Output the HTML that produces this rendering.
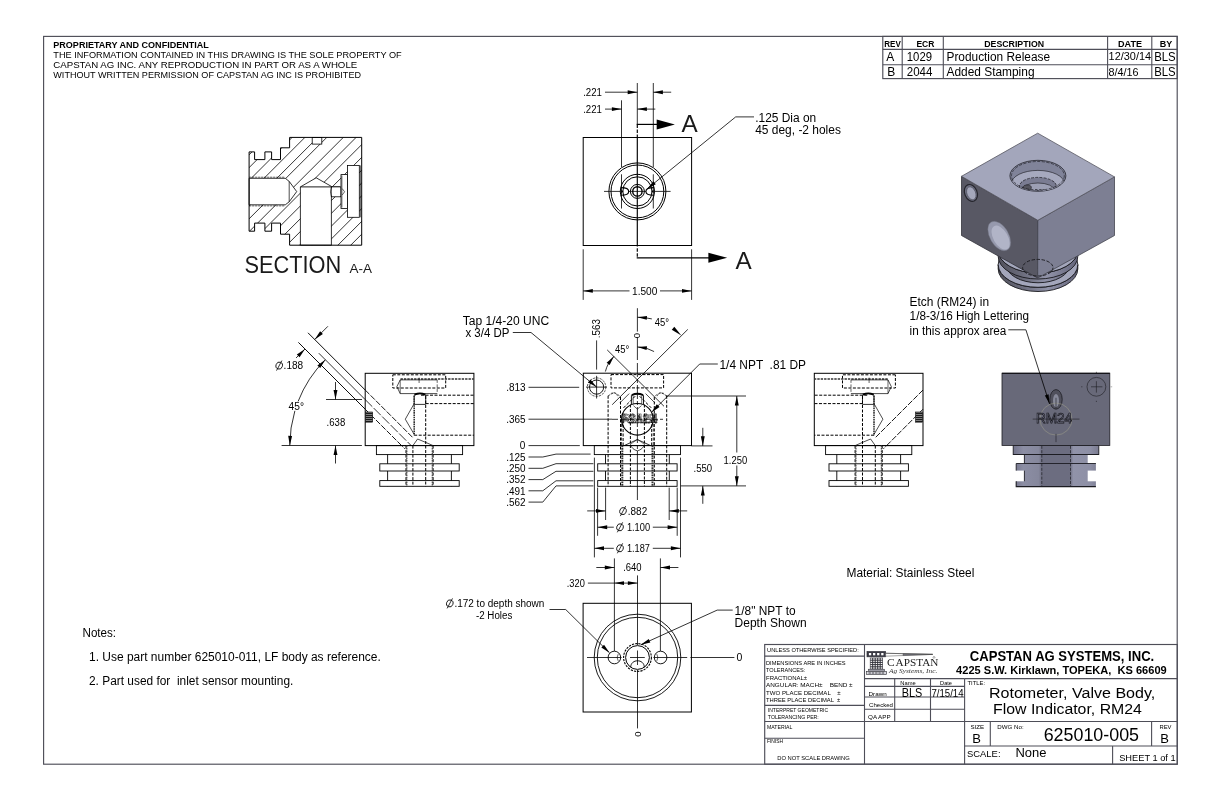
<!DOCTYPE html>
<html lang="en">
<head>
<meta charset="utf-8">
<title>625010-005 Rotometer, Valve Body, Flow Indicator, RM24</title>
<style>
html,body{margin:0;padding:0;background:#fff;}
body{width:1224px;height:792px;overflow:hidden;}
svg{display:block;font-family:"Liberation Sans",Arial,sans-serif;will-change:transform;}
svg text{white-space:pre;}
</style>
</head>
<body>
<svg width="1224" height="792" viewBox="0 0 1224 792">
<rect x="0" y="0" width="1224" height="792" fill="#fff"/>
<g id="frame">
<rect x="43.6" y="36.4" width="1133.6" height="727.8" fill="none" stroke="#4e4e58" stroke-width="1.15"/>
<text x="53.3" y="47.9" font-size="9.4" textLength="155.5" lengthAdjust="spacingAndGlyphs" font-weight="bold" >PROPRIETARY AND CONFIDENTIAL</text>
<text x="53.3" y="57.9" font-size="9.3" textLength="348.4" lengthAdjust="spacingAndGlyphs" >THE INFORMATION CONTAINED IN THIS DRAWING IS THE SOLE PROPERTY OF</text>
<text x="53.3" y="67.7" font-size="9.3" textLength="303.9" lengthAdjust="spacingAndGlyphs" >CAPSTAN AG INC. ANY REPRODUCTION IN PART OR AS A WHOLE</text>
<text x="53.3" y="77.6" font-size="9.3" textLength="307.7" lengthAdjust="spacingAndGlyphs" >WITHOUT WRITTEN PERMISSION OF CAPSTAN AG INC IS PROHIBITED</text>
<rect x="882.8" y="36.4" width="294.4" height="42.2" fill="none" stroke="#4e4e58" stroke-width="1.15"/>
<line x1="882.8" y1="49.4" x2="1177.2" y2="49.4" stroke="#4e4e58" stroke-width="1.1"/>
<line x1="882.8" y1="64.7" x2="1177.2" y2="64.7" stroke="#4e4e58" stroke-width="1.1"/>
<line x1="902.2" y1="36.4" x2="902.2" y2="78.6" stroke="#4e4e58" stroke-width="1.1"/>
<line x1="943.3" y1="36.4" x2="943.3" y2="78.6" stroke="#4e4e58" stroke-width="1.1"/>
<line x1="1107.6" y1="36.4" x2="1107.6" y2="78.6" stroke="#4e4e58" stroke-width="1.1"/>
<line x1="1151.8" y1="36.4" x2="1151.8" y2="78.6" stroke="#4e4e58" stroke-width="1.1"/>
<text x="892.5" y="47" font-size="9.2" text-anchor="middle" textLength="16.5" lengthAdjust="spacingAndGlyphs" font-weight="bold" >REV</text>
<text x="925.4" y="47" font-size="9.2" text-anchor="middle" textLength="18" lengthAdjust="spacingAndGlyphs" font-weight="bold" >ECR</text>
<text x="1014.2" y="47" font-size="9.2" text-anchor="middle" textLength="60" lengthAdjust="spacingAndGlyphs" font-weight="bold" >DESCRIPTION</text>
<text x="1130" y="47" font-size="9.2" text-anchor="middle" textLength="24" lengthAdjust="spacingAndGlyphs" font-weight="bold" >DATE</text>
<text x="1166" y="47" font-size="9.2" text-anchor="middle" textLength="12.5" lengthAdjust="spacingAndGlyphs" font-weight="bold" >BY</text>
<text x="890.3" y="61.3" font-size="12" text-anchor="middle" >A</text>
<text x="906.8" y="61.3" font-size="12" textLength="25.2" lengthAdjust="spacingAndGlyphs" >1029</text>
<text x="946.5" y="61.3" font-size="12" textLength="103.5" lengthAdjust="spacingAndGlyphs" >Production Release</text>
<text x="1108.6" y="60.1" font-size="11" textLength="42.5" lengthAdjust="spacingAndGlyphs" >12/30/14</text>
<text x="1154.2" y="61.3" font-size="12" textLength="21.5" lengthAdjust="spacingAndGlyphs" >BLS</text>
<text x="891.2" y="76.2" font-size="12" text-anchor="middle" >B</text>
<text x="906.8" y="76.2" font-size="12" textLength="25.6" lengthAdjust="spacingAndGlyphs" >2044</text>
<text x="946.5" y="76.2" font-size="12" textLength="88" lengthAdjust="spacingAndGlyphs" >Added Stamping</text>
<text x="1108.6" y="75.6" font-size="11" textLength="30" lengthAdjust="spacingAndGlyphs" >8/4/16</text>
<text x="1154.2" y="76.2" font-size="12" textLength="21.5" lengthAdjust="spacingAndGlyphs" >BLS</text>
<text x="82.5" y="636.6" font-size="12" textLength="33.6" lengthAdjust="spacingAndGlyphs" >Notes:</text>
<text x="89" y="660.5" font-size="12" textLength="291.8" lengthAdjust="spacingAndGlyphs" >1. Use part number 625010-011, LF body as reference.</text>
<text x="89" y="684.6" font-size="12" textLength="204.3" lengthAdjust="spacingAndGlyphs" >2. Part used for  inlet sensor mounting.</text>
<text x="846.5" y="576.8" font-size="12" textLength="127.9" lengthAdjust="spacingAndGlyphs" >Material: Stainless Steel</text>
<rect x="764.7" y="644.5" width="412.6" height="119.7" fill="none" stroke="#4e4e58" stroke-width="1.15"/>
<line x1="864.5" y1="644.5" x2="864.5" y2="764.2" stroke="#4e4e58" stroke-width="1.1"/>
<line x1="964.6" y1="678.6" x2="964.6" y2="764.2" stroke="#4e4e58" stroke-width="1.1"/>
<line x1="764.7" y1="656.1" x2="864.5" y2="656.1" stroke="#4e4e58" stroke-width="1.1"/>
<line x1="764.7" y1="705.4" x2="864.5" y2="705.4" stroke="#4e4e58" stroke-width="1.1"/>
<line x1="764.7" y1="721.5" x2="864.5" y2="721.5" stroke="#4e4e58" stroke-width="1.1"/>
<line x1="764.7" y1="738.2" x2="864.5" y2="738.2" stroke="#4e4e58" stroke-width="1.1"/>
<line x1="864.5" y1="678.6" x2="964.6" y2="678.6" stroke="#4e4e58" stroke-width="1.1"/>
<line x1="864.5" y1="686.4" x2="964.6" y2="686.4" stroke="#4e4e58" stroke-width="1.1"/>
<line x1="864.5" y1="697" x2="964.6" y2="697" stroke="#4e4e58" stroke-width="1.1"/>
<line x1="864.5" y1="709.3" x2="964.6" y2="709.3" stroke="#4e4e58" stroke-width="1.1"/>
<line x1="864.5" y1="721.5" x2="964.6" y2="721.5" stroke="#4e4e58" stroke-width="1.1"/>
<line x1="894.7" y1="678.6" x2="894.7" y2="721.5" stroke="#4e4e58" stroke-width="1.1"/>
<line x1="930.5" y1="678.6" x2="930.5" y2="721.5" stroke="#4e4e58" stroke-width="1.1"/>
<line x1="964.6" y1="678.6" x2="1177.3" y2="678.6" stroke="#4e4e58" stroke-width="1.1"/>
<line x1="964.6" y1="721.5" x2="1177.3" y2="721.5" stroke="#4e4e58" stroke-width="1.1"/>
<line x1="964.6" y1="746" x2="1177.3" y2="746" stroke="#4e4e58" stroke-width="1.1"/>
<line x1="990.3" y1="721.5" x2="990.3" y2="746" stroke="#4e4e58" stroke-width="1.1"/>
<line x1="1151.6" y1="721.5" x2="1151.6" y2="746" stroke="#4e4e58" stroke-width="1.1"/>
<line x1="1112.6" y1="746" x2="1112.6" y2="764.2" stroke="#4e4e58" stroke-width="1.1"/>
<text x="767.1" y="651.7" font-size="6" textLength="91.7" lengthAdjust="spacingAndGlyphs" >UNLESS OTHERWISE SPECIFIED:</text>
<text x="766" y="664.7" font-size="6" textLength="79.6" lengthAdjust="spacingAndGlyphs" >DIMENSIONS ARE IN INCHES</text>
<text x="766" y="672.1" font-size="6" textLength="39.3" lengthAdjust="spacingAndGlyphs" >TOLERANCES:</text>
<text x="766" y="679.6" font-size="6" textLength="41.1" lengthAdjust="spacingAndGlyphs" >FRACTIONAL±</text>
<text x="766" y="686.7" font-size="6" textLength="86.6" lengthAdjust="spacingAndGlyphs" >ANGULAR: MACH±    BEND ±</text>
<text x="766" y="694.6" font-size="6" textLength="74.7" lengthAdjust="spacingAndGlyphs" >TWO PLACE DECIMAL    ±</text>
<text x="766" y="701.9" font-size="6" textLength="74.2" lengthAdjust="spacingAndGlyphs" >THREE PLACE DECIMAL  ±</text>
<text x="767.8" y="711.8" font-size="6" textLength="60.3" lengthAdjust="spacingAndGlyphs" >INTERPRET GEOMETRIC</text>
<text x="767.8" y="718.9" font-size="6" textLength="51" lengthAdjust="spacingAndGlyphs" >TOLERANCING PER:</text>
<text x="767" y="728.9" font-size="6" textLength="25.4" lengthAdjust="spacingAndGlyphs" >MATERIAL</text>
<text x="767" y="742.8" font-size="6" textLength="16" lengthAdjust="spacingAndGlyphs" >FINISH</text>
<text x="777.2" y="759.8" font-size="6" textLength="72.5" lengthAdjust="spacingAndGlyphs" >DO NOT SCALE DRAWING</text>
<text x="900.3" y="684.5" font-size="5.2" textLength="15.4" lengthAdjust="spacingAndGlyphs" >Name</text>
<text x="940.1" y="684.5" font-size="5.2" textLength="11.9" lengthAdjust="spacingAndGlyphs" >Date</text>
<text x="868.5" y="695.7" font-size="5.4" textLength="18.2" lengthAdjust="spacingAndGlyphs" >Drawn</text>
<text x="869" y="706.8" font-size="5.4" textLength="24" lengthAdjust="spacingAndGlyphs" >Checked</text>
<text x="868" y="718.8" font-size="5.4" textLength="22.7" lengthAdjust="spacingAndGlyphs" >QA APP</text>
<text x="901.8" y="696.8" font-size="12" textLength="20.5" lengthAdjust="spacingAndGlyphs" >BLS</text>
<text x="931.4" y="696.5" font-size="10.5" textLength="32.2" lengthAdjust="spacingAndGlyphs" >7/15/14</text>
<g id="logo">
<rect x="867" y="651.6" width="18.6" height="5.2" fill="#3a3a44" stroke="#2b2b33" stroke-width="0.7"/>
<rect x="868.9" y="653" width="2.3" height="2.3" fill="#fff" stroke="none" stroke-width="0"/>
<rect x="873" y="653" width="2.3" height="2.3" fill="#fff" stroke="none" stroke-width="0"/>
<rect x="877.1" y="653" width="2.3" height="2.3" fill="#fff" stroke="none" stroke-width="0"/>
<rect x="881.2" y="653" width="2.3" height="2.3" fill="#fff" stroke="none" stroke-width="0"/>
<path d="M885.6 653.2 L932.7 654.4 L885.6 656.2 Z" fill="#fff" stroke="#444" stroke-width="0.5" />
<path d="M903 653.7 L932.7 654.4 L903 655.6 Z" fill="#777782" stroke="#444" stroke-width="0.4" />
<line x1="885.6" y1="653.3" x2="932.7" y2="654.3" stroke="#444" stroke-width="0.6"/>
<rect x="870.2" y="658" width="12.5" height="11" fill="#fff" stroke="#2b2b33" stroke-width="0.6"/>
<line x1="872.7" y1="658" x2="872.7" y2="669" stroke="#33333b" stroke-width="1"/>
<line x1="875.2" y1="658" x2="875.2" y2="669" stroke="#33333b" stroke-width="1"/>
<line x1="877.7" y1="658" x2="877.7" y2="669" stroke="#33333b" stroke-width="1"/>
<line x1="880.2" y1="658" x2="880.2" y2="669" stroke="#33333b" stroke-width="1"/>
<line x1="870.2" y1="660.2" x2="882.7" y2="660.2" stroke="#33333b" stroke-width="1"/>
<line x1="870.2" y1="662.4" x2="882.7" y2="662.4" stroke="#33333b" stroke-width="1"/>
<line x1="870.2" y1="664.6" x2="882.7" y2="664.6" stroke="#33333b" stroke-width="1"/>
<line x1="870.2" y1="666.8" x2="882.7" y2="666.8" stroke="#33333b" stroke-width="1"/>
<rect x="868.4" y="669.2" width="16.2" height="2.2" fill="#9a9aa4" stroke="#2b2b33" stroke-width="0.5"/>
<rect x="866.6" y="671.4" width="20.1" height="3.2" fill="#d8d8de" stroke="#2b2b33" stroke-width="0.6"/>
<line x1="868.5" y1="673" x2="884.8" y2="673" stroke="#33333b" stroke-width="0.9" stroke-dasharray="2.4 0.9"/>
<text x="886.9" y="665.7" fill="#222" font-family="&quot;Liberation Serif&quot;,serif"><tspan font-size="11.4">C</tspan><tspan x="895.6" font-size="10.4" textLength="42.8" lengthAdjust="spacingAndGlyphs">APSTAN</tspan></text>
<text x="932.8" y="658.6" font-size="3.6" >®</text>
<text x="889" y="673" font-size="6.2" textLength="48.3" lengthAdjust="spacingAndGlyphs" font-family="&quot;Liberation Serif&quot;,serif" font-style="italic" fill="#333" >Ag Systems, Inc.</text>
</g>
<text x="1062" y="660.5" font-size="14" text-anchor="middle" textLength="184.4" lengthAdjust="spacingAndGlyphs" font-weight="bold" >CAPSTAN AG SYSTEMS, INC.</text>
<text x="1061.4" y="673.8" font-size="10.8" text-anchor="middle" textLength="210.6" lengthAdjust="spacingAndGlyphs" font-weight="bold" >4225 S.W. Kirklawn, TOPEKA,  KS 66609</text>
<text x="967.5" y="684.5" font-size="5" textLength="17.6" lengthAdjust="spacingAndGlyphs" >TITLE:</text>
<text x="1072.1" y="697.7" font-size="15.5" text-anchor="middle" textLength="166.4" lengthAdjust="spacingAndGlyphs" >Rotometer, Valve Body,</text>
<text x="1067.5" y="713.8" font-size="15.5" text-anchor="middle" textLength="148.9" lengthAdjust="spacingAndGlyphs" >Flow Indicator, RM24</text>
<text x="970.4" y="729.1" font-size="5" textLength="13.7" lengthAdjust="spacingAndGlyphs" >SIZE</text>
<text x="972.3" y="742.8" font-size="13" >B</text>
<text x="997.3" y="729.1" font-size="5" textLength="26.3" lengthAdjust="spacingAndGlyphs" >DWG No:</text>
<text x="1043.7" y="740.5" font-size="17.5" textLength="95.3" lengthAdjust="spacingAndGlyphs" >625010-005</text>
<text x="1159.5" y="729.1" font-size="5" textLength="12" lengthAdjust="spacingAndGlyphs" >REV</text>
<text x="1160.2" y="742.8" font-size="13" >B</text>
<text x="967" y="757" font-size="9" textLength="33.5" lengthAdjust="spacingAndGlyphs" >SCALE:</text>
<text x="1015.5" y="756.9" font-size="12" textLength="31" lengthAdjust="spacingAndGlyphs" >None</text>
<text x="1119.2" y="760.6" font-size="9" textLength="56.5" lengthAdjust="spacingAndGlyphs" >SHEET 1 of 1</text>
</g>
<g id="section">
<clipPath id="secclip"><polygon points="289.6,137.4 361.7,137.4 361.7,245.2 289.6,245.2 289.6,234.2 280.5,234.2 280.5,223.1 271.6,223.1 271.6,231.2 264.9,231.2 264.9,223.1 254.6,223.1 254.6,231.2 249.1,231.2 249.1,151.9 254.6,151.9 254.6,159.6 264.9,159.6 264.9,151.9 271.6,151.9 271.6,159.6 280.5,159.6 280.5,147.8 289.6,147.8"/></clipPath>
<g clip-path="url(#secclip)">
<line x1="240" y1="125.5" x2="370" y2="-4.5" stroke="#000" stroke-width="0.8"/>
<line x1="240" y1="138.3" x2="370" y2="8.3" stroke="#000" stroke-width="0.8"/>
<line x1="240" y1="151.1" x2="370" y2="21.1" stroke="#000" stroke-width="0.8"/>
<line x1="240" y1="163.9" x2="370" y2="33.9" stroke="#000" stroke-width="0.8"/>
<line x1="240" y1="176.7" x2="370" y2="46.7" stroke="#000" stroke-width="0.8"/>
<line x1="240" y1="189.5" x2="370" y2="59.5" stroke="#000" stroke-width="0.8"/>
<line x1="240" y1="202.3" x2="370" y2="72.3" stroke="#000" stroke-width="0.8"/>
<line x1="240" y1="215.1" x2="370" y2="85.1" stroke="#000" stroke-width="0.8"/>
<line x1="240" y1="227.9" x2="268" y2="199.9" stroke="#000" stroke-width="0.8"/>
<line x1="240" y1="240.7" x2="370" y2="110.7" stroke="#000" stroke-width="0.8"/>
<line x1="240" y1="253.5" x2="370" y2="123.5" stroke="#000" stroke-width="0.8"/>
<line x1="240" y1="266.3" x2="370" y2="136.3" stroke="#000" stroke-width="0.8"/>
<line x1="240" y1="279.1" x2="370" y2="149.1" stroke="#000" stroke-width="0.8"/>
<line x1="240" y1="291.9" x2="370" y2="161.9" stroke="#000" stroke-width="0.8"/>
<line x1="240" y1="304.7" x2="370" y2="174.7" stroke="#000" stroke-width="0.8"/>
<line x1="240" y1="317.5" x2="370" y2="187.5" stroke="#000" stroke-width="0.8"/>
<line x1="240" y1="330.3" x2="370" y2="200.3" stroke="#000" stroke-width="0.8"/>
<line x1="240" y1="343.1" x2="370" y2="213.1" stroke="#000" stroke-width="0.8"/>
<line x1="240" y1="355.9" x2="370" y2="225.9" stroke="#000" stroke-width="0.8"/>
<line x1="240" y1="368.7" x2="370" y2="238.7" stroke="#000" stroke-width="0.8"/>
<line x1="283" y1="181.2" x2="370" y2="94.2" stroke="#000" stroke-width="0.8"/>
</g>
<polygon points="249.1,178.3 285.3,178.3 289.2,181.4 296.7,191.6 289.2,201.8 285.3,204.8 249.1,204.8" fill="#fff" stroke="#000" stroke-width="0.8" stroke-linejoin="miter"/>
<line x1="249.1" y1="177.2" x2="285" y2="177.2" stroke="#000" stroke-width="0.6" stroke-dasharray="2.2 0.8"/>
<line x1="249.1" y1="205.9" x2="285" y2="205.9" stroke="#000" stroke-width="0.6" stroke-dasharray="2.2 0.8"/>
<line x1="289.2" y1="181.4" x2="289.2" y2="201.8" stroke="#000" stroke-width="0.7"/>
<polygon points="300.4,245.2 300.4,186.9 316.2,177.8 331.4,186.4 331.4,245.2" fill="#fff" stroke="#000" stroke-width="0.8" stroke-linejoin="miter"/>
<line x1="300.4" y1="186.9" x2="340" y2="186.9" stroke="#000" stroke-width="0.9"/>
<rect x="331.4" y="186.9" width="9.6" height="9.9" fill="#fff" stroke="#000" stroke-width="0.8"/>
<path d="M331.4 186.9 Q329.6 191.8 331.4 196.8" fill="#fff" stroke="#000" stroke-width="0.7" />
<rect x="341" y="174.6" width="6.5" height="33.8" fill="#fff" stroke="#000" stroke-width="0.8"/>
<line x1="341.9" y1="175.5" x2="341.9" y2="207.5" stroke="#000" stroke-width="0.6"/>
<rect x="347.5" y="165.4" width="11.8" height="51.9" fill="#fff" stroke="#000" stroke-width="0.8"/>
<line x1="360.4" y1="165.4" x2="360.4" y2="217.3" stroke="#000" stroke-width="0.6"/>
<polyline points="342.2,188.6 344.6,191.8 342.2,195" fill="none" stroke="#000" stroke-width="0.6" stroke-linejoin="miter"/>
<rect x="312.2" y="137.4" width="9.6" height="6.7" fill="#fff" stroke="#000" stroke-width="0.8"/>
<polygon points="289.6,137.4 361.7,137.4 361.7,245.2 289.6,245.2 289.6,234.2 280.5,234.2 280.5,223.1 271.6,223.1 271.6,231.2 264.9,231.2 264.9,223.1 254.6,223.1 254.6,231.2 249.1,231.2 249.1,151.9 254.6,151.9 254.6,159.6 264.9,159.6 264.9,151.9 271.6,151.9 271.6,159.6 280.5,159.6 280.5,147.8 289.6,147.8" fill="none" stroke="#000" stroke-width="1" stroke-linejoin="miter"/>
<text x="244.5" y="273" font-size="23.5" textLength="96.8" lengthAdjust="spacingAndGlyphs" fill="#1a1a1a" >SECTION</text>
<text x="349.6" y="273" font-size="12.2" textLength="22.5" lengthAdjust="spacingAndGlyphs" fill="#1a1a1a" >A-A</text>
</g>
<g id="topview">
<rect x="583.2" y="137.5" width="108.4" height="108" fill="none" stroke="#000" stroke-width="1"/>
<circle cx="637.4" cy="191.4" r="28.5" fill="none" stroke="#000" stroke-width="1"/>
<circle cx="637.4" cy="191.4" r="26.4" fill="none" stroke="#000" stroke-width="1"/>
<circle cx="637.4" cy="191.4" r="17.1" fill="none" stroke="#000" stroke-width="1"/>
<circle cx="637.4" cy="191.4" r="14.6" fill="none" stroke="#000" stroke-width="1"/>
<circle cx="637.4" cy="191.4" r="7" fill="none" stroke="#000" stroke-width="1"/>
<circle cx="637.4" cy="191.4" r="4.7" fill="none" stroke="#000" stroke-width="1.4"/>
<path d="M620.9 187.6 C626 187.6 628.7 189.4 628.7 191.4 C628.7 193.4 626 195.2 620.9 195.2" fill="none" stroke="#000" stroke-width="1.15" />
<path d="M653.9 187.6 C648.8 187.6 645.9 189.4 645.9 191.4 C645.9 193.4 648.8 195.2 653.9 195.2" fill="none" stroke="#000" stroke-width="1.15" />
<polygon points="621.4,190.3 623.3,191.4 621.4,192.5" fill="#000" stroke="#000" stroke-width="0.5" stroke-linejoin="miter"/>
<polygon points="653.4,190.3 651.5,191.4 653.4,192.5" fill="#000" stroke="#000" stroke-width="0.5" stroke-linejoin="miter"/>
<line x1="604" y1="191.4" x2="621" y2="191.4" stroke="#000" stroke-width="0.8"/>
<line x1="628.7" y1="191.4" x2="645.9" y2="191.4" stroke="#000" stroke-width="0.8"/>
<line x1="653.8" y1="191.4" x2="670.6" y2="191.4" stroke="#000" stroke-width="0.8"/>
<line x1="621.5" y1="174.3" x2="621.5" y2="208.5" stroke="#000" stroke-width="0.8"/>
<line x1="653.3" y1="174.3" x2="653.3" y2="208.5" stroke="#000" stroke-width="0.8"/>
<line x1="621.5" y1="100.3" x2="621.5" y2="167" stroke="#000" stroke-width="0.8"/>
<line x1="653.3" y1="83" x2="653.3" y2="167" stroke="#000" stroke-width="0.8"/>
<line x1="637.3" y1="83" x2="637.3" y2="124.4" stroke="#000" stroke-width="0.8"/>
<text x="583.2" y="96.1" font-size="10" textLength="18.8" lengthAdjust="spacingAndGlyphs" >.221</text>
<line x1="605" y1="92.2" x2="637.3" y2="92.2" stroke="#000" stroke-width="0.8"/>
<polygon points="637.3,92.2 627.7,94.15 627.7,90.25" fill="#000"/>
<polygon points="653.3,92.2 662.9,90.25 662.9,94.15" fill="#000"/>
<line x1="653.3" y1="92.2" x2="671.2" y2="92.2" stroke="#000" stroke-width="0.8"/>
<text x="583.2" y="113.1" font-size="10" textLength="18.8" lengthAdjust="spacingAndGlyphs" >.221</text>
<line x1="605" y1="109.1" x2="621.5" y2="109.1" stroke="#000" stroke-width="0.8"/>
<polygon points="621.5,109.1 611.9,111.05 611.9,107.15" fill="#000"/>
<polygon points="637.3,109.1 646.9,107.15 646.9,111.05" fill="#000"/>
<line x1="637.3" y1="109.1" x2="655.3" y2="109.1" stroke="#000" stroke-width="0.8"/>
<line x1="637.3" y1="124.4" x2="637.3" y2="257.8" stroke="#000" stroke-width="1.15" stroke-dasharray="3.5 1.6 3.5 1.6 112 1.6 3.5 1.6 3.5 1.6"/>
<line x1="636.7" y1="124.4" x2="660" y2="124.4" stroke="#000" stroke-width="1.2"/>
<polygon points="674.9,124.4 656.7,129.4 656.7,119.4" fill="#000"/>
<line x1="636.7" y1="257.8" x2="712" y2="257.8" stroke="#000" stroke-width="1.2"/>
<polygon points="727.2,257.8 708.4,262.8 708.4,252.8" fill="#000"/>
<text x="681.6" y="131.6" font-size="24.5" textLength="16.2" lengthAdjust="spacingAndGlyphs" fill="#1a1a1a" >A</text>
<text x="735.5" y="268.8" font-size="24.5" textLength="16.2" lengthAdjust="spacingAndGlyphs" fill="#1a1a1a" >A</text>
<line x1="735.7" y1="116.9" x2="754" y2="116.9" stroke="#000" stroke-width="0.8"/>
<line x1="735.7" y1="116.9" x2="647.1" y2="188.9" stroke="#000" stroke-width="0.8"/>
<polygon points="647.1,188.9 653.35,181.37 655.75,184.32" fill="#000"/>
<text x="755.2" y="121.5" font-size="12" textLength="61" lengthAdjust="spacingAndGlyphs" >.125 Dia on</text>
<text x="755.2" y="133.8" font-size="12" textLength="85.7" lengthAdjust="spacingAndGlyphs" >45 deg, -2 holes</text>
<line x1="583.2" y1="249.3" x2="583.2" y2="299.9" stroke="#000" stroke-width="0.8"/>
<line x1="691.6" y1="249.3" x2="691.6" y2="299.9" stroke="#000" stroke-width="0.8"/>
<line x1="583.2" y1="290.9" x2="629.5" y2="290.9" stroke="#000" stroke-width="0.8"/>
<polygon points="583.2,290.9 592.8,288.95 592.8,292.85" fill="#000"/>
<line x1="660" y1="290.9" x2="691.6" y2="290.9" stroke="#000" stroke-width="0.8"/>
<polygon points="691.6,290.9 682,292.85 682,288.95" fill="#000"/>
<text x="644.7" y="294.8" font-size="10" text-anchor="middle" textLength="25.3" lengthAdjust="spacingAndGlyphs" >1.500</text>
</g>
<g id="frontview">
<rect x="583.3" y="373.2" width="108.2" height="72.4" fill="none" stroke="#000" stroke-width="1"/>
<rect x="594.3" y="445.6" width="86.2" height="9" fill="none" stroke="#000" stroke-width="0.9"/>
<line x1="605.5" y1="454.6" x2="605.5" y2="486.3" stroke="#000" stroke-width="0.9"/>
<line x1="669.3" y1="454.6" x2="669.3" y2="486.3" stroke="#000" stroke-width="0.9"/>
<rect x="597.7" y="463.8" width="79.4" height="7.2" fill="#fff" stroke="#000" stroke-width="0.9"/>
<rect x="597.7" y="480.6" width="79.4" height="5.7" fill="#fff" stroke="#000" stroke-width="0.9"/>
<rect x="611" y="374.6" width="52.6" height="13.3" fill="none" stroke="#000" stroke-width="1" stroke-dasharray="3 1.5"/>
<line x1="608.1" y1="395.8" x2="608.1" y2="486.3" stroke="#000" stroke-width="1" stroke-dasharray="3 1.5"/>
<line x1="620.5" y1="397" x2="620.5" y2="486.3" stroke="#000" stroke-width="1" stroke-dasharray="3 1.5"/>
<path d="M608.1 395.8 L614.3 392.4 L620.5 396.4" fill="none" stroke="#000" stroke-width="0.7" stroke-dasharray="2.4 1.2" />
<path d="M610.8 393.6 A4.6 4.6 0 0 1 617.8 397.2" fill="none" stroke="#000" stroke-width="0.6" stroke-dasharray="2 1" />
<line x1="623.1" y1="420" x2="623.1" y2="445.6" stroke="#000" stroke-width="1" stroke-dasharray="3 1.5"/>
<line x1="621.5" y1="424" x2="621.5" y2="445.6" stroke="#000" stroke-width="0.7" stroke-dasharray="3 1.5"/>
<line x1="622.3" y1="445.6" x2="622.3" y2="486.3" stroke="#333" stroke-width="2" stroke-dasharray="1.7 0.7"/>
<line x1="630.4" y1="404.5" x2="630.4" y2="486.3" stroke="#000" stroke-width="1" stroke-dasharray="3 1.5"/>
<line x1="629.2" y1="393.6" x2="619.8" y2="403" stroke="#000" stroke-width="0.7"/>
<line x1="635.2" y1="396.2" x2="623.4" y2="408" stroke="#000" stroke-width="1" stroke-dasharray="3 1.5"/>
<line x1="666.7" y1="395.8" x2="666.7" y2="486.3" stroke="#000" stroke-width="1" stroke-dasharray="3 1.5"/>
<line x1="654.3" y1="397" x2="654.3" y2="486.3" stroke="#000" stroke-width="1" stroke-dasharray="3 1.5"/>
<path d="M666.7 395.8 L660.5 392.4 L654.3 396.4" fill="none" stroke="#000" stroke-width="0.7" stroke-dasharray="2.4 1.2" />
<path d="M664 393.6 A4.6 4.6 0 0 0 657 397.2" fill="none" stroke="#000" stroke-width="0.6" stroke-dasharray="2 1" />
<line x1="651.7" y1="420" x2="651.7" y2="445.6" stroke="#000" stroke-width="1" stroke-dasharray="3 1.5"/>
<line x1="653.3" y1="424" x2="653.3" y2="445.6" stroke="#000" stroke-width="0.7" stroke-dasharray="3 1.5"/>
<line x1="652.5" y1="445.6" x2="652.5" y2="486.3" stroke="#333" stroke-width="2" stroke-dasharray="1.7 0.7"/>
<line x1="644.4" y1="404.5" x2="644.4" y2="486.3" stroke="#000" stroke-width="1" stroke-dasharray="3 1.5"/>
<line x1="645.6" y1="393.6" x2="655" y2="403" stroke="#000" stroke-width="0.7"/>
<line x1="639.6" y1="396.2" x2="651.4" y2="408" stroke="#000" stroke-width="1" stroke-dasharray="3 1.5"/>
<path d="M631.4 404.4 L631.4 395.4 Q637.4 392.6 643.5 395.4 L643.5 404.4" fill="none" stroke="#000" stroke-width="0.9" />
<path d="M631.8 395 Q637.4 392.4 643.1 395" fill="none" stroke="#000" stroke-width="1.8" />
<line x1="633.2" y1="396" x2="633.2" y2="404" stroke="#000" stroke-width="0.6"/>
<line x1="641.7" y1="396" x2="641.7" y2="404" stroke="#000" stroke-width="0.6"/>
<path d="M633.4 405.6 L637.4 409.2 L641.5 405.6" fill="none" stroke="#000" stroke-width="0.6" />
<line x1="687.8" y1="329.4" x2="612.2" y2="404.7" stroke="#000" stroke-width="0.8"/>
<line x1="607.2" y1="349.9" x2="664" y2="406.3" stroke="#000" stroke-width="0.8"/>
<circle cx="637.4" cy="419.3" r="15.8" fill="none" stroke="#000" stroke-width="1.1"/>
<g fill="none" stroke="#000" stroke-width="0.4">
<text x="620.8" y="422.5" font-size="13.5" textLength="36.8" lengthAdjust="spacingAndGlyphs" >RM24</text>
<g transform="translate(1277.4 0) scale(-1 1)">
<text x="619.6" y="422.5" font-size="13.5" textLength="36.8" lengthAdjust="spacingAndGlyphs" >RM24</text>
</g></g>
<line x1="627.5" y1="422.5" x2="657.5" y2="422.5" stroke="#000" stroke-width="0.5"/>
<path d="M624.2 445.6 L637.4 439.5 L650.6 445.6" fill="none" stroke="#000" stroke-width="0.8" />
<path d="M630.4 444.3 Q632 449.6 637.4 450.8 Q642.8 449.6 644.5 444.3" fill="none" stroke="#000" stroke-width="0.7" />
<path d="M630.4 444.3 L637.4 439.5 L644.5 444.3" fill="none" stroke="#000" stroke-width="0.5" />
<line x1="637.4" y1="308.2" x2="637.4" y2="331.6" stroke="#000" stroke-width="0.8"/>
<line x1="637.4" y1="338" x2="637.4" y2="360" stroke="#000" stroke-width="0.8"/>
<line x1="637.4" y1="363" x2="637.4" y2="452" stroke="#000" stroke-width="0.8" stroke-dasharray="14 2 4 2"/>
<line x1="637.4" y1="452" x2="637.4" y2="500" stroke="#000" stroke-width="0.8"/>
<line x1="612" y1="419.3" x2="663" y2="419.3" stroke="#000" stroke-width="0.8" stroke-dasharray="6 2"/>
<text x="640.5" y="338.3" font-size="9.5" transform="rotate(-90 640.5 338.3)" >0</text>
<circle cx="596.6" cy="387.1" r="9.2" fill="none" stroke="#000" stroke-width="0.7" stroke-dasharray="2.2 1.1"/>
<circle cx="596.6" cy="387.1" r="7.1" fill="none" stroke="#000" stroke-width="0.9"/>
<line x1="596.6" y1="375.8" x2="596.6" y2="398.5" stroke="#000" stroke-width="0.8"/>
<line x1="586" y1="387.1" x2="607" y2="387.1" stroke="#000" stroke-width="0.8"/>
<line x1="596.6" y1="340.4" x2="596.6" y2="369.6" stroke="#000" stroke-width="0.8"/>
<text x="600.2" y="338.2" font-size="10" textLength="19.2" lengthAdjust="spacingAndGlyphs" transform="rotate(-90 600.2 338.2)" >.563</text>
<text x="462.7" y="324.7" font-size="12" textLength="86.5" lengthAdjust="spacingAndGlyphs" >Tap 1/4-20 UNC</text>
<text x="465.4" y="336.6" font-size="12" textLength="44" lengthAdjust="spacingAndGlyphs" >x 3/4 DP</text>
<line x1="512.8" y1="332.5" x2="531" y2="332.5" stroke="#000" stroke-width="0.8"/>
<line x1="531" y1="332.5" x2="596.6" y2="387.1" stroke="#000" stroke-width="0.8"/>
<polygon points="596.6,387.1 587.97,382.46 590.47,379.46" fill="#000"/>
<text x="719.5" y="368.7" font-size="12" textLength="86.5" lengthAdjust="spacingAndGlyphs" >1/4 NPT  .81 DP</text>
<line x1="699.7" y1="364" x2="717.8" y2="364" stroke="#000" stroke-width="0.8"/>
<line x1="699.7" y1="364" x2="652" y2="411.8" stroke="#000" stroke-width="0.8"/>
<polygon points="651.4,412.4 656.81,404.23 659.57,406.99" fill="#000"/>
<text x="525.6" y="391.1" font-size="10" text-anchor="end" textLength="19.4" lengthAdjust="spacingAndGlyphs" >.813</text>
<text x="525.6" y="423" font-size="10" text-anchor="end" textLength="19.4" lengthAdjust="spacingAndGlyphs" >.365</text>
<text x="525.4" y="449.4" font-size="10" text-anchor="end" >0</text>
<text x="525.6" y="460.8" font-size="10" text-anchor="end" textLength="19.4" lengthAdjust="spacingAndGlyphs" >.125</text>
<text x="525.6" y="472.1" font-size="10" text-anchor="end" textLength="19.4" lengthAdjust="spacingAndGlyphs" >.250</text>
<text x="525.6" y="483.4" font-size="10" text-anchor="end" textLength="19.4" lengthAdjust="spacingAndGlyphs" >.352</text>
<text x="525.6" y="494.6" font-size="10" text-anchor="end" textLength="19.4" lengthAdjust="spacingAndGlyphs" >.491</text>
<text x="525.6" y="505.9" font-size="10" text-anchor="end" textLength="19.4" lengthAdjust="spacingAndGlyphs" >.562</text>
<line x1="528.5" y1="387.3" x2="579.2" y2="387.3" stroke="#000" stroke-width="0.8"/>
<line x1="528.5" y1="419.2" x2="612" y2="419.2" stroke="#000" stroke-width="0.8"/>
<line x1="528.5" y1="445.6" x2="579.8" y2="445.6" stroke="#000" stroke-width="0.8"/>
<polyline points="528.5,457 542.8,457 556,454.1 590.6,454.1" fill="none" stroke="#000" stroke-width="0.8" stroke-linejoin="miter"/>
<polyline points="528.5,468.3 542.8,468.3 556,463.7 593.4,463.7" fill="none" stroke="#000" stroke-width="0.8" stroke-linejoin="miter"/>
<polyline points="528.5,479.6 542.8,479.6 556,471.3 593.4,471.3" fill="none" stroke="#000" stroke-width="0.8" stroke-linejoin="miter"/>
<polyline points="528.5,490.8 542.8,490.8 556,480.8 593.4,480.8" fill="none" stroke="#000" stroke-width="0.8" stroke-linejoin="miter"/>
<polyline points="528.5,502.1 542.8,502.1 556,485.9 593.4,485.9" fill="none" stroke="#000" stroke-width="0.8" stroke-linejoin="miter"/>
<path d="M637.3 317.2 A62.3 62.3 0 0 1 651.84 318.92" fill="none" stroke="#000" stroke-width="0.8" />
<polygon points="637.3,317.2 647.01,315.97 646.74,319.77" fill="#000"/>
<polygon points="681.35,335.45 671.77,329.7 674.33,326.76" fill="#000"/>
<text x="654.8" y="326" font-size="10" textLength="14.3" lengthAdjust="spacingAndGlyphs" >45°</text>
<path d="M637.3 346.9 A32.6 32.6 0 0 1 654.09 351.56" fill="none" stroke="#000" stroke-width="0.8" />
<polygon points="637.3,346.9 647.06,346.18 646.6,349.96" fill="#000"/>
<path d="M614.04 356.24 A32.9 32.9 0 0 0 605.38 371.54" fill="none" stroke="#000" stroke-width="0.8" />
<polygon points="614.04,356.24 609.62,364.97 606.63,362.63" fill="#000"/>
<text x="615" y="352.5" font-size="10" textLength="14.3" lengthAdjust="spacingAndGlyphs" >45°</text>
<line x1="665.8" y1="396" x2="746" y2="396" stroke="#000" stroke-width="0.8"/>
<line x1="680.8" y1="485.9" x2="746" y2="485.9" stroke="#000" stroke-width="0.8"/>
<line x1="736.8" y1="396" x2="736.8" y2="452.5" stroke="#000" stroke-width="0.8"/>
<line x1="736.8" y1="465.5" x2="736.8" y2="485.9" stroke="#000" stroke-width="0.8"/>
<polygon points="736.8,396 738.75,405.6 734.85,405.6" fill="#000"/>
<polygon points="736.8,485.9 734.85,476.3 738.75,476.3" fill="#000"/>
<text x="735.4" y="463.7" font-size="10" text-anchor="middle" textLength="23.6" lengthAdjust="spacingAndGlyphs" >1.250</text>
<line x1="691.5" y1="445.9" x2="712.5" y2="445.9" stroke="#000" stroke-width="0.8"/>
<line x1="702.8" y1="427.8" x2="702.8" y2="445.9" stroke="#000" stroke-width="0.8"/>
<polygon points="702.8,445.9 700.85,436.3 704.75,436.3" fill="#000"/>
<line x1="702.8" y1="485.9" x2="702.8" y2="503.8" stroke="#000" stroke-width="0.8"/>
<polygon points="702.8,485.9 704.75,495.5 700.85,495.5" fill="#000"/>
<text x="702.8" y="472.3" font-size="10" text-anchor="middle" textLength="18.6" lengthAdjust="spacingAndGlyphs" >.550</text>
<line x1="594.4" y1="457.6" x2="594.4" y2="557.4" stroke="#000" stroke-width="0.8"/>
<line x1="680.5" y1="457.6" x2="680.5" y2="557.4" stroke="#000" stroke-width="0.8"/>
<line x1="597.6" y1="487.6" x2="597.6" y2="535.8" stroke="#000" stroke-width="0.8"/>
<line x1="677.2" y1="487.6" x2="677.2" y2="535.8" stroke="#000" stroke-width="0.8"/>
<line x1="605.6" y1="487.6" x2="605.6" y2="520" stroke="#000" stroke-width="0.8"/>
<line x1="669.2" y1="487.6" x2="669.2" y2="520" stroke="#000" stroke-width="0.8"/>
<line x1="587.2" y1="510.9" x2="605.6" y2="510.9" stroke="#000" stroke-width="0.8"/>
<polygon points="605.6,510.9 596,512.85 596,508.95" fill="#000"/>
<line x1="669.2" y1="510.9" x2="687.2" y2="510.9" stroke="#000" stroke-width="0.8"/>
<polygon points="669.2,510.9 678.8,508.95 678.8,512.85" fill="#000"/>
<ellipse cx="623" cy="511.1" rx="3.2" ry="3.54" fill="none" stroke="#000" stroke-width="0.8" transform="rotate(20 623 511.1)"/>
<line x1="620.3" y1="516.1" x2="625.7" y2="506.1" stroke="#000" stroke-width="0.8"/>
<text x="627.8" y="514.7" font-size="10" textLength="19.4" lengthAdjust="spacingAndGlyphs" >.882</text>
<line x1="597.6" y1="527.2" x2="613.8" y2="527.2" stroke="#000" stroke-width="0.8"/>
<polygon points="597.6,527.2 607.2,525.25 607.2,529.15" fill="#000"/>
<line x1="652.8" y1="527.2" x2="677.2" y2="527.2" stroke="#000" stroke-width="0.8"/>
<polygon points="677.2,527.2 667.6,529.15 667.6,525.25" fill="#000"/>
<ellipse cx="620" cy="527.3" rx="3.2" ry="3.54" fill="none" stroke="#000" stroke-width="0.8" transform="rotate(20 620 527.3)"/>
<line x1="617.3" y1="532.3" x2="622.7" y2="522.3" stroke="#000" stroke-width="0.8"/>
<text x="626.9" y="530.9" font-size="10" textLength="23.2" lengthAdjust="spacingAndGlyphs" >1.100</text>
<line x1="594.4" y1="548.3" x2="613.8" y2="548.3" stroke="#000" stroke-width="0.8"/>
<polygon points="594.4,548.3 604,546.35 604,550.25" fill="#000"/>
<line x1="652.8" y1="548.3" x2="680.5" y2="548.3" stroke="#000" stroke-width="0.8"/>
<polygon points="680.5,548.3 670.9,550.25 670.9,546.35" fill="#000"/>
<ellipse cx="620" cy="548.3" rx="3.2" ry="3.54" fill="none" stroke="#000" stroke-width="0.8" transform="rotate(20 620 548.3)"/>
<line x1="617.3" y1="553.3" x2="622.7" y2="543.3" stroke="#000" stroke-width="0.8"/>
<text x="626.9" y="551.9" font-size="10" textLength="23" lengthAdjust="spacingAndGlyphs" >1.187</text>
</g>
<g id="leftview">
<rect x="365.2" y="373.3" width="108.7" height="72.3" fill="none" stroke="#000" stroke-width="1"/>
<rect x="376.4" y="445.6" width="86.2" height="9" fill="none" stroke="#000" stroke-width="0.9"/>
<line x1="387.6" y1="454.6" x2="387.6" y2="486.3" stroke="#000" stroke-width="0.9"/>
<line x1="451.4" y1="454.6" x2="451.4" y2="486.3" stroke="#000" stroke-width="0.9"/>
<rect x="379.8" y="463.8" width="79.4" height="7.2" fill="#fff" stroke="#000" stroke-width="0.9"/>
<rect x="379.8" y="480.6" width="79.4" height="5.7" fill="#fff" stroke="#000" stroke-width="0.9"/>
<rect x="392.8" y="374.8" width="52.9" height="13.2" fill="none" stroke="#000" stroke-width="1" stroke-dasharray="3 1.5"/>
<line x1="400.5" y1="378.9" x2="473.9" y2="378.9" stroke="#333" stroke-width="1.5" stroke-dasharray="2.4 1"/>
<line x1="421" y1="395.2" x2="473.9" y2="395.2" stroke="#000" stroke-width="1" stroke-dasharray="3 1.5"/>
<polyline points="437.2,379.9 400.2,379.9 396.9,386.6 400.2,393.6 437.2,393.6" fill="none" stroke="#000" stroke-width="0.7" stroke-linejoin="miter"/>
<line x1="400.2" y1="379.9" x2="400.2" y2="393.6" stroke="#000" stroke-width="0.6"/>
<line x1="437.2" y1="379.9" x2="437.2" y2="393.6" stroke="#000" stroke-width="0.6" stroke-dasharray="3 1.5"/>
<line x1="419.1" y1="377.6" x2="419.1" y2="383" stroke="#000" stroke-width="0.6"/>
<line x1="425.7" y1="403.6" x2="473.9" y2="403.6" stroke="#000" stroke-width="1" stroke-dasharray="3 1.5"/>
<line x1="414.2" y1="435.2" x2="473.9" y2="435.2" stroke="#000" stroke-width="1" stroke-dasharray="3 1.5"/>
<path d="M414.2 404.4 L414.2 395 Q419.9 392 425.7 395 L425.7 404.4 Z" fill="none" stroke="#000" stroke-width="0.8" />
<path d="M414.6 394.6 Q419.9 392 425.3 394.6" fill="none" stroke="#000" stroke-width="1.8" />
<line x1="414.2" y1="396" x2="414.2" y2="435.2" stroke="#333" stroke-width="1.6" stroke-dasharray="1.6 0.7"/>
<line x1="425.7" y1="396" x2="425.7" y2="486.3" stroke="#000" stroke-width="1" stroke-dasharray="3 1.5"/>
<polyline points="414.2,403.6 405.3,419.2 414.2,434.4" fill="none" stroke="#000" stroke-width="0.7" stroke-linejoin="miter"/>
<line x1="406" y1="445.6" x2="406" y2="486.3" stroke="#000" stroke-width="1" stroke-dasharray="3 1.5"/>
<line x1="412.9" y1="445.6" x2="412.9" y2="486.3" stroke="#000" stroke-width="1" stroke-dasharray="3 1.5"/>
<line x1="433.1" y1="445.6" x2="433.1" y2="486.3" stroke="#000" stroke-width="1" stroke-dasharray="3 1.5"/>
<line x1="406.8" y1="445.6" x2="406.8" y2="486.3" stroke="#444" stroke-width="1.2" stroke-dasharray="1.6 0.8"/>
<line x1="432.3" y1="445.6" x2="432.3" y2="486.3" stroke="#444" stroke-width="1.2" stroke-dasharray="1.6 0.8"/>
<polyline points="412.9,445.6 417.6,439 425.7,442.4 433.1,445.6" fill="none" stroke="#000" stroke-width="0.7" stroke-linejoin="miter"/>
<line x1="365.2" y1="390" x2="413.5" y2="438.3" stroke="#000" stroke-width="0.9" stroke-dasharray="6 1.6"/>
<line x1="365.2" y1="409.2" x2="401.5" y2="445.5" stroke="#000" stroke-width="0.9" stroke-dasharray="6 1.6"/>
<line x1="365.2" y1="399.6" x2="411.1" y2="445.5" stroke="#000" stroke-width="0.8" stroke-dasharray="10 2"/>
<line x1="401.5" y1="445.5" x2="405.5" y2="449.5" stroke="#000" stroke-width="0.7" stroke-dasharray="2 1"/>
<rect x="365.6" y="412" width="7" height="10.2" fill="#fff" stroke="#000" stroke-width="0.6"/>
<line x1="365.6" y1="413.2" x2="372.6" y2="413.2" stroke="#000" stroke-width="1.4"/>
<line x1="365.6" y1="415.2" x2="372.6" y2="415.2" stroke="#000" stroke-width="1.4"/>
<line x1="365.6" y1="417.2" x2="372.6" y2="417.2" stroke="#000" stroke-width="1.4"/>
<line x1="365.6" y1="419.2" x2="372.6" y2="419.2" stroke="#000" stroke-width="1.4"/>
<line x1="365.6" y1="421.2" x2="372.6" y2="421.2" stroke="#000" stroke-width="1.4"/>
<line x1="308" y1="332.8" x2="365.2" y2="390" stroke="#000" stroke-width="0.95"/>
<line x1="298.4" y1="342.4" x2="365.2" y2="409.2" stroke="#000" stroke-width="0.95"/>
<line x1="318.8" y1="353.2" x2="365.2" y2="399.6" stroke="#000" stroke-width="0.8"/>
<line x1="327.9" y1="326.3" x2="314.7" y2="339.5" stroke="#000" stroke-width="0.8"/>
<polygon points="314.7,339.5 320.11,331.33 322.87,334.09" fill="#000"/>
<line x1="296" y1="358" x2="305" y2="349" stroke="#000" stroke-width="0.8"/>
<polygon points="305,349 299.59,357.17 296.83,354.41" fill="#000"/>
<ellipse cx="279.2" cy="365.6" rx="3.2" ry="3.54" fill="none" stroke="#000" stroke-width="0.8" transform="rotate(20 279.2 365.6)"/>
<line x1="276.5" y1="370.6" x2="281.9" y2="360.6" stroke="#000" stroke-width="0.8"/>
<text x="283.6" y="369.2" font-size="10" textLength="19.6" lengthAdjust="spacingAndGlyphs" >.188</text>
<path d="M289.8 445.5 A121.3 121.3 0 0 1 294.86 410.85" fill="none" stroke="#000" stroke-width="0.8" />
<path d="M298.09 401.44 A121.3 121.3 0 0 1 325.33 359.73" fill="none" stroke="#000" stroke-width="0.8" />
<polygon points="289.8,445.5 288.19,435.84 292.08,435.97" fill="#000"/>
<polygon points="325.33,359.73 320.21,368.08 317.35,365.42" fill="#000"/>
<text x="288.6" y="410.2" font-size="10" textLength="15.4" lengthAdjust="spacingAndGlyphs" >45°</text>
<line x1="281.6" y1="445.5" x2="361.9" y2="445.5" stroke="#000" stroke-width="0.8"/>
<line x1="326" y1="399.5" x2="362" y2="399.5" stroke="#000" stroke-width="0.8"/>
<line x1="335.5" y1="382" x2="335.5" y2="399.5" stroke="#000" stroke-width="0.8"/>
<polygon points="335.5,399.5 333.55,389.9 337.45,389.9" fill="#000"/>
<line x1="335.5" y1="445.5" x2="335.5" y2="463.5" stroke="#000" stroke-width="0.8"/>
<polygon points="335.5,445.5 337.45,455.1 333.55,455.1" fill="#000"/>
<text x="326.6" y="426.2" font-size="10" textLength="18.6" lengthAdjust="spacingAndGlyphs" >.638</text>
</g>
<g id="rightview" transform="translate(1288.2 0) scale(-1 1)">
<rect x="365.2" y="373.3" width="108.7" height="72.3" fill="none" stroke="#000" stroke-width="1"/>
<rect x="376.4" y="445.6" width="86.2" height="9" fill="none" stroke="#000" stroke-width="0.9"/>
<line x1="387.6" y1="454.6" x2="387.6" y2="486.3" stroke="#000" stroke-width="0.9"/>
<line x1="451.4" y1="454.6" x2="451.4" y2="486.3" stroke="#000" stroke-width="0.9"/>
<rect x="379.8" y="463.8" width="79.4" height="7.2" fill="#fff" stroke="#000" stroke-width="0.9"/>
<rect x="379.8" y="480.6" width="79.4" height="5.7" fill="#fff" stroke="#000" stroke-width="0.9"/>
<rect x="392.8" y="374.8" width="52.9" height="13.2" fill="none" stroke="#000" stroke-width="1" stroke-dasharray="3 1.5"/>
<line x1="400.5" y1="378.9" x2="473.9" y2="378.9" stroke="#333" stroke-width="1.5" stroke-dasharray="2.4 1"/>
<line x1="421" y1="395.2" x2="473.9" y2="395.2" stroke="#000" stroke-width="1" stroke-dasharray="3 1.5"/>
<polyline points="437.2,379.9 400.2,379.9 396.9,386.6 400.2,393.6 437.2,393.6" fill="none" stroke="#000" stroke-width="0.7" stroke-linejoin="miter"/>
<line x1="400.2" y1="379.9" x2="400.2" y2="393.6" stroke="#000" stroke-width="0.6"/>
<line x1="437.2" y1="379.9" x2="437.2" y2="393.6" stroke="#000" stroke-width="0.6" stroke-dasharray="3 1.5"/>
<line x1="419.1" y1="377.6" x2="419.1" y2="383" stroke="#000" stroke-width="0.6"/>
<line x1="425.7" y1="403.6" x2="473.9" y2="403.6" stroke="#000" stroke-width="1" stroke-dasharray="3 1.5"/>
<line x1="414.2" y1="435.2" x2="473.9" y2="435.2" stroke="#000" stroke-width="1" stroke-dasharray="3 1.5"/>
<path d="M414.2 404.4 L414.2 395 Q419.9 392 425.7 395 L425.7 404.4 Z" fill="none" stroke="#000" stroke-width="0.8" />
<path d="M414.6 394.6 Q419.9 392 425.3 394.6" fill="none" stroke="#000" stroke-width="1.8" />
<line x1="414.2" y1="396" x2="414.2" y2="435.2" stroke="#333" stroke-width="1.6" stroke-dasharray="1.6 0.7"/>
<line x1="425.7" y1="396" x2="425.7" y2="486.3" stroke="#000" stroke-width="1" stroke-dasharray="3 1.5"/>
<polyline points="414.2,403.6 405.3,419.2 414.2,434.4" fill="none" stroke="#000" stroke-width="0.7" stroke-linejoin="miter"/>
<line x1="406" y1="445.6" x2="406" y2="486.3" stroke="#000" stroke-width="1" stroke-dasharray="3 1.5"/>
<line x1="412.9" y1="445.6" x2="412.9" y2="486.3" stroke="#000" stroke-width="1" stroke-dasharray="3 1.5"/>
<line x1="433.1" y1="445.6" x2="433.1" y2="486.3" stroke="#000" stroke-width="1" stroke-dasharray="3 1.5"/>
<line x1="406.8" y1="445.6" x2="406.8" y2="486.3" stroke="#444" stroke-width="1.2" stroke-dasharray="1.6 0.8"/>
<line x1="432.3" y1="445.6" x2="432.3" y2="486.3" stroke="#444" stroke-width="1.2" stroke-dasharray="1.6 0.8"/>
<polyline points="412.9,445.6 417.6,439 425.7,442.4 433.1,445.6" fill="none" stroke="#000" stroke-width="0.7" stroke-linejoin="miter"/>
<line x1="365.2" y1="390" x2="413.5" y2="438.3" stroke="#000" stroke-width="0.9" stroke-dasharray="6 1.6"/>
<line x1="365.2" y1="409.2" x2="401.5" y2="445.5" stroke="#000" stroke-width="0.9" stroke-dasharray="6 1.6"/>
<line x1="401.5" y1="445.5" x2="405.5" y2="449.5" stroke="#000" stroke-width="0.7" stroke-dasharray="2 1"/>
<rect x="365.6" y="412" width="7" height="10.2" fill="#fff" stroke="#000" stroke-width="0.6"/>
<line x1="365.6" y1="413.2" x2="372.6" y2="413.2" stroke="#000" stroke-width="1.4"/>
<line x1="365.6" y1="415.2" x2="372.6" y2="415.2" stroke="#000" stroke-width="1.4"/>
<line x1="365.6" y1="417.2" x2="372.6" y2="417.2" stroke="#000" stroke-width="1.4"/>
<line x1="365.6" y1="419.2" x2="372.6" y2="419.2" stroke="#000" stroke-width="1.4"/>
<line x1="365.6" y1="421.2" x2="372.6" y2="421.2" stroke="#000" stroke-width="1.4"/>
</g>
<g id="bottomview">
<rect x="583.1" y="603.3" width="108.3" height="108.7" fill="none" stroke="#000" stroke-width="1"/>
<circle cx="637.5" cy="657.5" r="43.3" fill="none" stroke="#000" stroke-width="0.9"/>
<circle cx="637.5" cy="657.5" r="40.2" fill="none" stroke="#000" stroke-width="0.9"/>
<circle cx="637.5" cy="657.5" r="13.9" fill="none" stroke="#000" stroke-width="1.1" stroke-dasharray="2.2 1.1"/>
<circle cx="637.5" cy="657.5" r="11.9" fill="none" stroke="#000" stroke-width="1"/>
<circle cx="614.4" cy="657.5" r="6.3" fill="none" stroke="#000" stroke-width="0.9"/>
<path d="M618.2 654.1 A6.3 6.3 0 0 0 618.2 660.9" fill="none" stroke="#000" stroke-width="0.6" />
<circle cx="660.6" cy="657.5" r="6.3" fill="none" stroke="#000" stroke-width="0.9"/>
<path d="M656.8 654.1 A6.3 6.3 0 0 1 656.8 660.9" fill="none" stroke="#000" stroke-width="0.6" />
<path d="M630.7 667.3 C630.7 658.6 644.3 658.6 644.3 667.3" fill="none" stroke="#000" stroke-width="0.9" />
<line x1="587" y1="657.5" x2="621.5" y2="657.5" stroke="#000" stroke-width="0.8"/>
<line x1="630" y1="657.5" x2="644.8" y2="657.5" stroke="#000" stroke-width="0.8"/>
<line x1="653.5" y1="657.5" x2="687.2" y2="657.5" stroke="#000" stroke-width="0.8"/>
<line x1="690.4" y1="657.5" x2="734.4" y2="657.5" stroke="#000" stroke-width="0.8"/>
<text x="736.6" y="661.1" font-size="10.5" >0</text>
<line x1="637.5" y1="575.4" x2="637.5" y2="645" stroke="#000" stroke-width="0.8"/>
<line x1="637.5" y1="650.5" x2="637.5" y2="665" stroke="#000" stroke-width="0.8"/>
<line x1="637.5" y1="670" x2="637.5" y2="728.4" stroke="#000" stroke-width="0.8"/>
<text x="640.8" y="736.8" font-size="9.5" transform="rotate(-90 640.8 736.8)" >0</text>
<line x1="614.4" y1="558.4" x2="614.4" y2="651" stroke="#000" stroke-width="0.8"/>
<line x1="660.4" y1="558.4" x2="660.4" y2="651" stroke="#000" stroke-width="0.8"/>
<line x1="596.3" y1="567.5" x2="614.4" y2="567.5" stroke="#000" stroke-width="0.8"/>
<polygon points="614.4,567.5 604.8,569.45 604.8,565.55" fill="#000"/>
<line x1="660.4" y1="567.5" x2="678.4" y2="567.5" stroke="#000" stroke-width="0.8"/>
<polygon points="660.4,567.5 670,565.55 670,569.45" fill="#000"/>
<text x="632.4" y="571.4" font-size="10" text-anchor="middle" textLength="18.4" lengthAdjust="spacingAndGlyphs" >.640</text>
<text x="566.8" y="587" font-size="10" textLength="18" lengthAdjust="spacingAndGlyphs" >.320</text>
<line x1="587.9" y1="583.1" x2="637.5" y2="583.1" stroke="#000" stroke-width="0.8"/>
<polygon points="614.4,583.1 624,581.15 624,585.05" fill="#000"/>
<polygon points="637.5,583.1 627.9,585.05 627.9,581.15" fill="#000"/>
<ellipse cx="449.8" cy="603.4" rx="3.2" ry="3.54" fill="none" stroke="#000" stroke-width="0.8" transform="rotate(20 449.8 603.4)"/>
<line x1="447.1" y1="608.4" x2="452.5" y2="598.4" stroke="#000" stroke-width="0.8"/>
<text x="454.4" y="607" font-size="10" textLength="90" lengthAdjust="spacingAndGlyphs" >.172 to depth shown</text>
<text x="476" y="618.5" font-size="10" textLength="36.3" lengthAdjust="spacingAndGlyphs" >-2 Holes</text>
<line x1="549.5" y1="609.5" x2="565.7" y2="609.5" stroke="#000" stroke-width="0.8"/>
<line x1="565.7" y1="609.5" x2="609.5" y2="652.8" stroke="#000" stroke-width="0.8"/>
<polygon points="609.5,652.8 601.3,647.44 604.04,644.66" fill="#000"/>
<text x="734.6" y="614.5" font-size="12" textLength="61" lengthAdjust="spacingAndGlyphs" >1/8" NPT to</text>
<text x="734.6" y="626.7" font-size="12" textLength="72" lengthAdjust="spacingAndGlyphs" >Depth Shown</text>
<line x1="717.2" y1="610.1" x2="732.7" y2="610.1" stroke="#000" stroke-width="0.8"/>
<line x1="717.2" y1="610.1" x2="640.8" y2="644.8" stroke="#000" stroke-width="0.8"/>
<polygon points="640.8,644.8 648.73,639.05 650.35,642.61" fill="#000"/>
</g>
<g id="isoview">
<defs><linearGradient id="flg" x1="0" y1="0" x2="1" y2="0"><stop offset="0" stop-color="#50505b"/><stop offset="0.3" stop-color="#6b6c7c"/><stop offset="0.62" stop-color="#9092a8"/><stop offset="1" stop-color="#63647a"/></linearGradient><clipPath id="holeclip"><ellipse cx="1037.9" cy="175.8" rx="27.4" ry="15"/></clipPath><clipPath id="holeclip2"><ellipse cx="1037.9" cy="186.2" rx="17.6" ry="8.2"/></clipPath></defs>
<path d="M998.2 264.7 L998.2 268.9 A39.8 22.61 0 0 0 1077.8 268.9 L1077.8 264.7 A39.8 22.61 0 0 1 998.2 264.7 Z" fill="url(#flg)" stroke="#17171c" stroke-width="0.9" />
<ellipse cx="1038" cy="264.7" rx="39.8" ry="22.61" fill="#a3a6bb" stroke="#17171c" stroke-width="0.9"/>
<path d="M1006.2 256.4 L1006.2 264.7 A31.8 18.06 0 0 0 1069.8 264.7 L1069.8 256.4 A31.8 18.06 0 0 1 1006.2 256.4 Z" fill="url(#flg)" stroke="#17171c" stroke-width="0.9" />
<ellipse cx="1038" cy="256.4" rx="31.8" ry="18.06" fill="#6b6c7c" stroke="#17171c" stroke-width="0.9"/>
<path d="M998.2 250.4 L998.2 256.4 A39.8 22.61 0 0 0 1077.8 256.4 L1077.8 250.4 A39.8 22.61 0 0 1 998.2 250.4 Z" fill="url(#flg)" stroke="#17171c" stroke-width="0.9" />
<ellipse cx="1038" cy="250.4" rx="39.8" ry="22.61" fill="#a3a6bb" stroke="#17171c" stroke-width="0.9"/>
<path d="M1006.2 242.9 L1006.2 250.4 A31.8 18.06 0 0 0 1069.8 250.4 L1069.8 242.9 A31.8 18.06 0 0 1 1006.2 242.9 Z" fill="url(#flg)" stroke="#17171c" stroke-width="0.9" />
<ellipse cx="1038" cy="242.9" rx="31.8" ry="18.06" fill="#6b6c7c" stroke="#17171c" stroke-width="0.9"/>
<path d="M995.4 236.5 L995.4 242.9 A42.6 24.2 0 0 0 1080.6 242.9 L1080.6 236.5 A42.6 24.2 0 0 1 995.4 236.5 Z" fill="url(#flg)" stroke="#17171c" stroke-width="0.9" />
<ellipse cx="1038" cy="236.5" rx="42.6" ry="24.2" fill="#a3a6bb" stroke="#17171c" stroke-width="0.9"/>
<polygon points="961.5,176.3 1037.8,220.3 1037.7,278 961.5,235.5" fill="#585864" stroke="#33333b" stroke-width="0.8" stroke-linejoin="round"/>
<polygon points="1037.8,220.3 1114.5,176.9 1114.5,235.5 1037.7,278" fill="#7d7f93" stroke="#44454f" stroke-width="0.8" stroke-linejoin="round"/>
<polygon points="1037.7,133.2 1114.5,176.9 1037.8,220.3 961.5,176.3" fill="#a3a6bb" stroke="#55565f" stroke-width="0.8" stroke-linejoin="round"/>
<ellipse cx="1037.9" cy="175.8" rx="28" ry="15.5" fill="#808399" stroke="#17171c" stroke-width="0.7"/>
<g clip-path="url(#holeclip)">
<ellipse cx="1037.9" cy="183.6" rx="26.5" ry="13.2" fill="#a6a9be" stroke="#17171c" stroke-width="0.6"/>
<ellipse cx="1037.9" cy="186.2" rx="18.4" ry="8.8" fill="#7a7c92" stroke="#17171c" stroke-width="0.7" stroke-dasharray="3 1.2"/>
<g clip-path="url(#holeclip2)">
<ellipse cx="1037.9" cy="190.2" rx="16.5" ry="7.2" fill="#9c9fb4" stroke="#17171c" stroke-width="0.6"/>
<ellipse cx="1027.2" cy="187.6" rx="4.2" ry="2.6" fill="#55555f" stroke="#17171c" stroke-width="0.5"/>
<path d="M1030 191.2 l2 -1.4 l2 1.2 l2 -1.6 l2 1.4 l2 -1.2 l2 1 l2 -1.2" fill="none" stroke="#17171c" stroke-width="0.7" />
</g></g>
<ellipse cx="1037.9" cy="175.8" rx="26.4" ry="14.3" fill="none" stroke="#17171c" stroke-width="0.6" stroke-dasharray="3.2 1.4"/>
<ellipse cx="970.9" cy="192.9" rx="6.2" ry="8.7" fill="#6c6e80" stroke="#25252c" stroke-width="1.2" transform="rotate(-22 970.9 192.9)"/>
<ellipse cx="971.3" cy="193.3" rx="4.3" ry="6.7" fill="#a4a7bb" stroke="#45454f" stroke-width="0.5" transform="rotate(-22 971.3 193.3)"/>
<ellipse cx="999.3" cy="236" rx="9.4" ry="16.2" fill="#9699ad" stroke="#6c6e7c" stroke-width="0.4" transform="rotate(-30 999.3 236)"/>
<ellipse cx="1000.6" cy="237.6" rx="7.2" ry="13.2" fill="#b1b4c7" stroke="none" stroke-width="0" transform="rotate(-30 1000.6 237.6)"/>
<ellipse cx="1037.8" cy="267.7" rx="15.2" ry="8.3" fill="none" stroke="#17171c" stroke-width="0.9" stroke-dasharray="3.4 1.6"/>
</g>
<g id="grayview">
<defs><linearGradient id="gfl" gradientUnits="userSpaceOnUse" x1="1013" y1="0" x2="1099" y2="0"><stop offset="0" stop-color="#72738a"/><stop offset="0.12" stop-color="#8c8ea4"/><stop offset="0.30" stop-color="#85879c"/><stop offset="0.335" stop-color="#6c6d80"/><stop offset="0.665" stop-color="#6c6d80"/><stop offset="0.70" stop-color="#9193a9"/><stop offset="0.9" stop-color="#8d8fa5"/><stop offset="1" stop-color="#7a7b90"/></linearGradient></defs>
<rect x="1024.4" y="454.4" width="63.3" height="32.2" fill="url(#gfl)" stroke="none" stroke-width="0"/>
<rect x="1013.2" y="445.4" width="85.6" height="9.1" fill="url(#gfl)" stroke="#1c1c22" stroke-width="0.9"/>
<rect x="1016.2" y="463.5" width="79.7" height="7.1" fill="url(#gfl)" stroke="none" stroke-width="0"/>
<rect x="1016.2" y="481.3" width="79.7" height="5.3" fill="url(#gfl)" stroke="none" stroke-width="0"/>
<line x1="1024.4" y1="454.5" x2="1024.4" y2="463.5" stroke="#1c1c22" stroke-width="0.9"/>
<line x1="1024.4" y1="470.6" x2="1024.4" y2="481.3" stroke="#1c1c22" stroke-width="0.9"/>
<polyline points="1016.2,470.6 1016.2,463.5 1095.9,463.5" fill="none" stroke="#1c1c22" stroke-width="0.9" stroke-linejoin="miter"/>
<polyline points="1016.2,481.3 1016.2,486.6 1095.9,486.6" fill="none" stroke="#1c1c22" stroke-width="1.1" stroke-linejoin="miter"/>
<line x1="1013.2" y1="454.5" x2="1098.8" y2="454.5" stroke="#1c1c22" stroke-width="1.1"/>
<line x1="1041.8" y1="445.8" x2="1041.8" y2="486.7" stroke="#1c1c22" stroke-width="0.7" stroke-dasharray="3 1.4"/>
<line x1="1070.5" y1="445.8" x2="1070.5" y2="486.7" stroke="#1c1c22" stroke-width="0.7" stroke-dasharray="3 1.4"/>
<rect x="1002" y="373.2" width="107.8" height="72.2" fill="#686979" stroke="#1c1c22" stroke-width="0.8"/>
<line x1="1002" y1="373.3" x2="1109.8" y2="373.3" stroke="#15151a" stroke-width="1.2"/>
<ellipse cx="1056" cy="399.4" rx="6.2" ry="9.8" fill="#50505c" stroke="#1c1c22" stroke-width="0.8"/>
<ellipse cx="1056" cy="400.6" rx="3" ry="6.6" fill="#878999" stroke="none" stroke-width="0"/>
<circle cx="1056" cy="419.1" r="16" fill="none" stroke="#98988a" stroke-width="0.6"/>
<text x="1054" y="422.7" font-size="14.7" text-anchor="middle" textLength="36.2" lengthAdjust="spacingAndGlyphs" fill="#83859a" stroke="#18181e" stroke-width="0.75">RM24</text>
<line x1="1032.7" y1="419.1" x2="1079.5" y2="419.1" stroke="#1c1c22" stroke-width="0.6"/>
<line x1="1056" y1="397.8" x2="1056" y2="408.5" stroke="#1c1c22" stroke-width="0.6"/>
<line x1="1056" y1="420.8" x2="1056" y2="423.3" stroke="#1c1c22" stroke-width="0.6"/>
<line x1="1056" y1="433.9" x2="1056" y2="442.1" stroke="#1c1c22" stroke-width="0.6"/>
<circle cx="1096.4" cy="386.8" r="9.4" fill="none" stroke="#1c1c22" stroke-width="0.6"/>
<line x1="1091" y1="386.8" x2="1102.4" y2="386.8" stroke="#1c1c22" stroke-width="0.6"/>
<line x1="1096.4" y1="381.2" x2="1096.4" y2="392.6" stroke="#1c1c22" stroke-width="0.6"/>
<line x1="1081.2" y1="386.8" x2="1082.4" y2="386.8" stroke="#1c1c22" stroke-width="0.6"/>
<line x1="1110.6" y1="386.8" x2="1112.2" y2="386.8" stroke="#777" stroke-width="0.6"/>
<line x1="1096.4" y1="371.8" x2="1096.4" y2="373" stroke="#1c1c22" stroke-width="0.6"/>
<line x1="1096.4" y1="400.8" x2="1096.4" y2="402" stroke="#1c1c22" stroke-width="0.6"/>
<text x="909.6" y="305.5" font-size="12" textLength="79.5" lengthAdjust="spacingAndGlyphs" >Etch (RM24) in</text>
<text x="909.6" y="320.4" font-size="12" textLength="119.5" lengthAdjust="spacingAndGlyphs" >1/8-3/16 High Lettering</text>
<text x="909.6" y="335.2" font-size="12" textLength="96.8" lengthAdjust="spacingAndGlyphs" >in this approx area</text>
<line x1="1008.3" y1="329.8" x2="1025.9" y2="329.8" stroke="#000" stroke-width="0.8"/>
<line x1="1025.9" y1="329.8" x2="1049.6" y2="404" stroke="#000" stroke-width="0.8"/>
<polygon points="1049.6,404 1044.82,395.45 1048.54,394.26" fill="#000"/>
</g>
</svg>
</body>
</html>
